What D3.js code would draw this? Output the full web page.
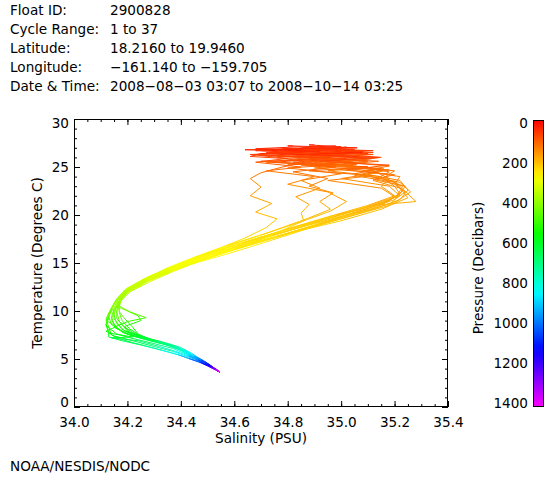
<!DOCTYPE html>
<html><head><meta charset="utf-8">
<script src="https://cdn.jsdelivr.net/npm/d3@7"></script>
<style>
html,body{margin:0;padding:0;background:#fff;}
svg{display:block;font-family:"DejaVu Sans",sans-serif;}
</style></head>
<body><svg id="chart" width="560" height="480"></svg>
<script>
// ---- header info ----
const headerLabels = ["Float ID:", "Cycle Range:", "Latitude:", "Longitude:", "Date & Time:"];
const headerValues = ["2900828", "1 to 37", "18.2160 to 19.9460", "\u2212161.140 to \u2212159.705", "2008\u221208\u221203 03:07 to 2008\u221210\u221214 03:25"];

// ---- axes ----
const salinityDomain = [34.0, 35.4];
const temperatureDomain = [0, 30];
const pressureDomain = [0, 1400];
const salinityTicks = [34.0, 34.2, 34.4, 34.6, 34.8, 35.0, 35.2, 35.4];
const temperatureTicks = [0, 5, 10, 15, 20, 25, 30];
const pressureTicks = [0, 200, 400, 600, 800, 1000, 1200, 1400];

// ---- profiles: [pressure (dbar), salinity (PSU), temperature (C)] ----
const c01 = [[10,34.92,26.9],[30,34.90,26.9],[46,34.75,26.8],[58,35.00,26.6],[76,34.70,26.2],[90,35.05,25.8],[104,34.80,25.3],[118,35.10,25.0],[131,34.95,24.6],[144,35.15,24.0],[160,35.20,23.0],[175,35.22,22.2],[195,35.18,21.0],[212,35.05,20.0],[228,34.90,18.8],[252,34.72,17.2],[268,34.58,16.0],[290,34.43,14.8],[315,34.32,13.7],[340,34.24,12.7],[370,34.19,11.8],[400,34.17,10.9],[440,34.16,9.9],[490,34.17,8.9],[550,34.20,7.9],[600,34.25,7.3],[660,34.32,6.8],[740,34.39,6.2],[830,34.43,5.6],[930,34.46,5.1],[1030,34.485,4.75],[1120,34.505,4.45],[1210,34.52,4.15],[1300,34.53,3.9],[1380,34.54,3.7]];
const c02 = [[10,35.02,27.1],[30,35.00,27.0],[46,34.80,26.9],[58,34.68,26.7],[70,34.95,26.5],[80,35.12,26.3],[95,34.85,25.9],[109,34.72,25.5],[122,35.05,25.1],[133,35.18,24.5],[149,35.12,23.6],[162,35.22,22.8],[180,35.25,21.8],[199,35.15,20.6],[219,35.00,19.4],[239,34.82,18.2],[262,34.65,16.8],[280,34.50,15.5],[305,34.38,14.3],[332,34.28,13.2],[360,34.21,12.2],[395,34.17,11.1],[435,34.15,10.1],[480,34.15,9.2],[540,34.18,8.1],[590,34.22,7.5],[640,34.28,7.0],[720,34.36,6.4],[810,34.42,5.8],[910,34.455,5.2],[1010,34.48,4.8],[1100,34.50,4.5],[1190,34.515,4.2],[1280,34.53,3.95],[1370,34.54,3.74],[1400,34.545,3.65]];
const c03 = [[10,34.88,26.6],[30,34.86,26.6],[46,34.70,26.4],[64,34.66,26.1],[85,34.90,25.7],[109,34.78,25.0],[127,34.70,24.4],[144,34.66,23.8],[158,34.70,22.9],[171,34.66,22.0],[185,34.74,21.2],[199,34.68,20.3],[212,34.76,19.6],[225,34.72,18.7],[244,34.64,17.6],[262,34.55,16.6],[278,34.44,15.4],[300,34.34,14.3],[325,34.26,13.3],[355,34.20,12.3],[390,34.16,11.2],[430,34.14,10.2],[475,34.13,9.3],[520,34.12,8.5],[560,34.16,7.6],[610,34.21,7.2],[670,34.30,6.6],[750,34.37,6.1],[840,34.42,5.5],[930,34.455,5.0],[1040,34.485,4.65],[1140,34.505,4.35],[1230,34.52,4.08],[1320,34.535,3.85],[1400,34.545,3.65]];
const c04 = [[10,34.95,26.8],[30,34.94,26.8],[46,35.08,26.6],[64,34.82,26.3],[80,35.10,25.9],[100,34.90,25.5],[118,35.15,24.8],[133,35.05,24.3],[147,35.20,23.5],[185,35.28,21.4],[199,35.12,21.0],[212,35.02,20.2],[225,34.88,19.0],[244,34.74,17.8],[264,34.60,16.5],[282,34.47,15.3],[305,34.36,14.2],[330,34.27,13.1],[358,34.20,12.1],[395,34.16,11.0],[440,34.17,9.9],[480,34.19,9.2],[530,34.22,8.3],[580,34.24,7.6],[630,34.29,7.0],[700,34.35,6.5],[780,34.40,6.0],[870,34.44,5.4],[960,34.47,5.0],[1060,34.49,4.65],[1150,34.51,4.35],[1240,34.525,4.05],[1330,34.535,3.82],[1400,34.545,3.64]];
const c05 = [[10,34.98,27.2],[30,34.97,27.2],[46,34.85,27.0],[58,35.05,26.8],[70,34.75,26.5],[85,34.92,26.0],[104,35.10,25.6],[118,34.85,25.2],[129,35.12,24.6],[144,35.18,23.8],[158,35.15,23.0],[175,35.20,22.0],[195,35.10,21.0],[216,34.95,19.8],[237,34.78,18.4],[259,34.62,17.0],[275,34.49,15.8],[298,34.38,14.6],[322,34.29,13.5],[350,34.22,12.5],[385,34.18,11.4],[420,34.17,10.5],[450,34.21,9.9],[480,34.27,9.3],[505,34.20,8.9],[540,34.15,8.3],[575,34.20,7.6],[620,34.26,7.1],[690,34.33,6.6],[770,34.39,6.1],[860,34.43,5.5],[950,34.46,5.05],[1050,34.485,4.7],[1140,34.505,4.4],[1230,34.52,4.1],[1320,34.535,3.86],[1400,34.545,3.66]];
const c06 = [[10,34.80,26.9],[30,34.79,26.9],[46,34.95,26.7],[58,34.72,26.5],[76,35.00,26.2],[90,34.88,25.8],[104,35.08,25.4],[118,34.80,24.9],[131,35.00,24.3],[144,34.85,23.6],[158,34.92,22.8],[171,34.83,21.9],[185,34.88,21.1],[202,34.85,20.2],[216,34.86,19.4],[231,34.78,18.4],[252,34.68,17.3],[265,34.56,16.3],[288,34.44,15.1],[310,34.34,14.0],[335,34.25,12.9],[365,34.19,11.9],[400,34.15,10.8],[440,34.13,9.8],[480,34.12,9.0],[515,34.16,8.4],[545,34.12,7.9],[580,34.15,7.4],[625,34.22,6.9],[690,34.30,6.3],[770,34.37,5.8],[860,34.42,5.3],[950,34.455,4.95],[1050,34.48,4.62],[1150,34.50,4.32],[1240,34.52,4.05],[1320,34.535,3.85],[1400,34.545,3.66]];
const c07 = [[10,35.05,27.0],[30,35.04,27.0],[46,34.90,26.9],[58,35.12,26.7],[76,34.95,26.4],[90,35.15,26.0],[106,35.00,25.5],[120,35.18,25.1],[133,35.08,24.6],[144,35.22,24.0],[158,35.20,23.2],[171,35.24,22.4],[187,35.20,21.6],[206,35.08,20.5],[222,34.95,19.4],[241,34.80,18.1],[264,34.63,16.7],[282,34.49,15.4],[305,34.37,14.2],[330,34.27,13.1],[360,34.20,12.0],[395,34.17,11.0],[435,34.16,10.1],[480,34.16,9.2],[530,34.19,8.3],[585,34.23,7.6],[640,34.29,7.0],[715,34.36,6.5],[800,34.41,5.9],[890,34.445,5.35],[990,34.47,4.95],[1090,34.495,4.55],[1180,34.51,4.25],[1270,34.525,3.98],[1360,34.54,3.75],[1400,34.545,3.66]];
const c08 = [[10,34.70,26.7],[30,34.70,26.7],[46,34.85,26.5],[64,34.66,26.3],[80,34.80,25.9],[95,34.68,25.5],[113,34.85,25.0],[127,34.72,24.6],[140,34.90,24.0],[153,34.80,23.2],[167,34.95,22.4],[183,35.02,21.4],[199,34.96,20.4],[216,34.85,19.3],[234,34.72,18.1],[257,34.57,16.8],[275,34.45,15.6],[298,34.35,14.5],[322,34.27,13.4],[350,34.20,12.4],[385,34.16,11.3],[425,34.14,10.3],[470,34.13,9.4],[520,34.14,8.6],[565,34.19,7.7],[615,34.25,7.2],[680,34.32,6.7],[760,34.38,6.2],[850,34.42,5.6],[940,34.455,5.1],[1040,34.48,4.75],[1130,34.50,4.45],[1220,34.515,4.15],[1310,34.53,3.9],[1390,34.54,3.68]];
const c09 = [[10,34.90,27.3],[30,34.88,27.3],[46,35.00,27.1],[58,34.78,26.9],[70,35.08,26.7],[84,34.92,26.3],[97,35.12,25.9],[111,34.95,25.3],[124,35.16,24.8],[136,35.10,24.2],[149,35.22,23.6],[167,35.25,22.6],[185,35.22,21.6],[204,35.12,20.6],[219,35.00,19.6],[235,34.84,18.4],[257,34.66,17.0],[272,34.52,15.9],[295,34.40,14.8],[318,34.31,13.7],[345,34.23,12.7],[378,34.18,11.6],[415,34.16,10.6],[460,34.15,9.6],[510,34.16,8.7],[560,34.19,7.9],[610,34.25,7.3],[670,34.33,6.8],[750,34.40,6.2],[840,34.44,5.6],[930,34.465,5.15],[1030,34.49,4.75],[1120,34.505,4.45],[1210,34.52,4.15],[1300,34.535,3.9],[1390,34.545,3.68]];
const c10 = [[10,34.95,26.4],[30,34.94,26.4],[52,34.74,26.2],[70,35.02,25.9],[87,34.82,25.5],[104,35.10,25.0],[118,34.88,24.6],[131,35.12,24.1],[142,34.95,23.6],[156,35.15,22.8],[171,35.20,21.9],[190,35.14,20.9],[208,35.02,19.9],[222,34.90,18.9],[241,34.76,17.7],[263,34.60,16.4],[280,34.47,15.2],[303,34.37,14.1],[328,34.28,13.0],[357,34.21,12.0],[392,34.17,10.9],[432,34.15,10.0],[478,34.14,9.1],[530,34.16,8.2],[580,34.21,7.5],[630,34.27,7.0],[700,34.34,6.5],[785,34.40,5.9],[875,34.44,5.35],[970,34.47,4.95],[1070,34.49,4.6],[1160,34.51,4.3],[1250,34.525,4.0],[1340,34.54,3.78],[1400,34.545,3.65]];
const c11 = [[10,35.00,26.6],[30,34.98,26.6],[46,35.10,26.4],[64,34.88,26.2],[80,35.12,25.9],[93,34.70,25.6],[109,34.95,25.2],[122,35.15,24.7],[136,35.05,24.1],[149,35.20,23.4],[165,35.23,22.5],[183,35.18,21.5],[202,35.06,20.5],[219,34.93,19.5],[237,34.78,18.2],[259,34.61,16.9],[276,34.47,15.6],[300,34.36,14.4],[325,34.27,13.3],[352,34.20,12.3],[388,34.16,11.2],[428,34.14,10.2],[475,34.12,9.2],[520,34.13,8.3],[565,34.14,7.5],[600,34.17,7.1],[650,34.22,6.7],[720,34.29,6.2],[800,34.35,5.75],[880,34.40,5.35],[970,34.44,4.95],[1070,34.475,4.6],[1170,34.50,4.28],[1260,34.52,4.0],[1340,34.535,3.8],[1400,34.545,3.66]];
const c12 = [[10,34.85,27.1],[30,34.84,27.1],[46,34.68,26.9],[58,34.92,26.8],[70,34.76,26.6],[85,35.02,26.2],[100,34.82,25.7],[115,35.06,25.3],[127,34.90,24.9],[138,35.14,24.4],[149,35.00,23.8],[162,35.18,23.0],[177,35.22,22.0],[197,35.12,21.0],[212,34.98,20.0],[231,34.82,18.7],[255,34.64,17.2],[272,34.50,16.0],[295,34.39,14.8],[318,34.30,13.7],[345,34.22,12.7],[378,34.18,11.5],[418,34.16,10.5],[450,34.20,10.0],[480,34.24,9.5],[510,34.25,9.0],[540,34.19,8.4],[575,34.21,7.7],[620,34.26,7.2],[685,34.33,6.7],[765,34.39,6.1],[855,34.43,5.5],[945,34.46,5.05],[1045,34.485,4.7],[1140,34.505,4.4],[1230,34.52,4.1],[1320,34.535,3.86],[1400,34.545,3.66]];
const c13 = [[10,34.96,26.9],[30,34.95,26.9],[46,34.64,26.8],[62,34.90,26.6],[78,35.10,26.3],[93,34.86,26.0],[108,35.14,25.6],[120,34.98,25.2],[133,35.20,24.6],[147,35.16,23.9],[162,35.23,23.0],[180,35.21,22.0],[199,35.10,20.9],[216,34.97,19.8],[234,34.80,18.5],[257,34.63,17.1],[274,34.49,15.9],[298,34.38,14.7],[322,34.28,13.6],[350,34.21,12.5],[385,34.17,11.4],[425,34.15,10.4],[470,34.13,9.5],[515,34.12,8.6],[555,34.13,7.8],[590,34.13,7.3],[630,34.18,6.9],[700,34.26,6.4],[780,34.33,5.9],[865,34.39,5.45],[955,34.43,5.05],[1050,34.47,4.7],[1145,34.495,4.38],[1235,34.515,4.08],[1320,34.53,3.85],[1400,34.545,3.65]];
const c14 = [[10,34.82,27.2],[30,34.80,27.2],[46,35.06,27.0],[58,34.86,26.8],[73,35.12,26.5],[87,34.76,26.1],[102,35.04,25.7],[117,34.88,25.2],[129,35.18,24.7],[142,35.08,24.2],[154,35.22,23.4],[171,35.26,22.4],[190,35.20,21.3],[208,35.06,20.2],[224,34.92,19.1],[244,34.76,17.8],[264,34.61,16.6],[282,34.47,15.3],[306,34.36,14.1],[332,34.27,13.0],[362,34.20,11.9],[398,34.17,10.9],[440,34.17,9.8],[485,34.18,9.0],[535,34.21,8.1],[585,34.25,7.4],[640,34.31,6.9],[715,34.38,6.3],[800,34.42,5.8],[890,34.45,5.3],[985,34.475,4.9],[1085,34.495,4.55],[1175,34.51,4.25],[1265,34.525,3.98],[1355,34.54,3.76],[1400,34.545,3.66]];
const c15 = [[10,34.75,26.8],[30,34.74,26.8],[46,34.92,26.6],[62,34.68,26.3],[78,34.95,25.9],[93,34.75,25.5],[109,34.98,25.0],[122,34.82,24.5],[136,34.95,23.8],[149,34.88,23.0],[162,34.97,22.3],[175,34.92,21.4],[193,34.96,20.6],[209,34.88,19.7],[224,34.80,18.9],[241,34.70,17.9],[262,34.57,16.7],[278,34.45,15.5],[300,34.35,14.4],[325,34.26,13.3],[355,34.19,12.2],[390,34.16,11.2],[430,34.14,10.2],[470,34.13,9.4],[510,34.12,8.6],[550,34.13,7.7],[585,34.22,7.3],[620,34.14,7.2],[660,34.24,6.9],[730,34.32,6.3],[810,34.38,5.8],[900,34.43,5.3],[995,34.465,4.9],[1090,34.49,4.55],[1180,34.51,4.25],[1270,34.525,3.98],[1360,34.54,3.75],[1400,34.545,3.66]];
const c16 = [[10,35.08,26.5],[30,35.07,26.5],[46,34.86,26.3],[64,35.14,26.0],[80,34.92,25.6],[95,35.18,25.2],[111,35.02,24.7],[126,35.20,24.2],[138,35.12,23.7],[150,35.24,23.0],[167,35.22,22.2],[183,35.16,21.2],[202,35.04,20.2],[219,34.90,19.1],[237,34.74,17.9],[259,34.59,16.6],[276,34.46,15.4],[300,34.36,14.3],[325,34.27,13.2],[355,34.20,12.2],[390,34.17,11.1],[430,34.15,10.2],[470,34.14,9.4],[515,34.15,8.6],[560,34.18,7.8],[605,34.23,7.3],[660,34.30,6.9],[735,34.37,6.4],[820,34.42,5.8],[910,34.45,5.3],[1005,34.475,4.9],[1100,34.50,4.5],[1190,34.515,4.2],[1280,34.53,3.95],[1370,34.54,3.72],[1400,34.545,3.65]];
const profiles = [c01, c02, c03, c04, c05, c06, c07, c08, c09, c10, c11, c12, c13, c14, c15, c16];

// ---- drawing ----
const FS = 13.6;
const svg = d3.select("#chart");
const x = d3.scaleLinear().domain(salinityDomain).range([74, 448]);
const y = d3.scaleLinear().domain(temperatureDomain).range([407, 119]);
const hue = d3.scaleLinear().domain(pressureDomain).range([0, 300]).clamp(true);
const color = p => d3.hsl(hue(p), 1, 0.5).toString();

// header
const hdr = svg.append("g").attr("font-size", FS).attr("fill", "#000");
headerLabels.forEach((t, i) => {
  hdr.append("text").attr("x", 10).attr("y", 15 + i * 19).text(t);
  hdr.append("text").attr("x", 110).attr("y", 15 + i * 19).text(headerValues[i]);
});

// profiles as coloured segments
const gLines = svg.append("g").attr("fill", "none").attr("stroke-width", 1);
profiles.forEach(prof => {
  const segs = d3.pairs(prof);
  gLines.selectAll(null).data(segs).join("line")
    .attr("x1", d => x(d[0][1])).attr("y1", d => y(d[0][2]))
    .attr("x2", d => x(d[1][1])).attr("y2", d => y(d[1][2]))
    .attr("stroke", d => color((d[0][0] + d[1][0]) / 2));
});

// axes
function styleAxis(g) {
  g.select(".domain").remove();
  g.selectAll("line").attr("stroke", "#000");
  g.selectAll("text").attr("fill", "#000").attr("font-size", FS).attr("font-family", "DejaVu Sans, sans-serif");
}
const minorX = d3.range(34.0, 35.4001, 0.05);
const minorY = d3.range(0, 30.001, 1);
svg.append("g").attr("transform", "translate(0,407)")
  .call(d3.axisBottom(x).tickValues(minorX).tickFormat("").tickSizeInner(-3).tickSizeOuter(0)).call(styleAxis);
svg.append("g").attr("transform", "translate(0,407)")
  .call(d3.axisBottom(x).tickValues(salinityTicks).tickFormat(d3.format(".1f")).tickSizeInner(-6).tickSizeOuter(0).tickPadding(10)).call(styleAxis);
svg.append("g").attr("transform", "translate(0,119)")
  .call(d3.axisTop(x).tickValues(minorX).tickFormat("").tickSizeInner(-3).tickSizeOuter(0)).call(styleAxis);
svg.append("g").attr("transform", "translate(0,119)")
  .call(d3.axisTop(x).tickValues(salinityTicks).tickFormat("").tickSizeInner(-6).tickSizeOuter(0)).call(styleAxis);
svg.append("g").attr("transform", "translate(74,0)")
  .call(d3.axisLeft(y).tickValues(minorY).tickFormat("").tickSizeInner(-3).tickSizeOuter(0)).call(styleAxis);
const yAx = svg.append("g").attr("transform", "translate(74,0)")
  .call(d3.axisLeft(y).tickValues(temperatureTicks).tickFormat(d3.format("d")).tickSizeInner(-6).tickSizeOuter(0).tickPadding(5)).call(styleAxis);
yAx.selectAll(".tick text").filter(d => d === 0).attr("dy", "-0.05em");
yAx.selectAll(".tick text").filter(d => d === 30).attr("dy", "0.6em");
svg.append("g").attr("transform", "translate(448,0)")
  .call(d3.axisRight(y).tickValues(minorY).tickFormat("").tickSizeInner(-3).tickSizeOuter(0)).call(styleAxis);
svg.append("g").attr("transform", "translate(448,0)")
  .call(d3.axisRight(y).tickValues(temperatureTicks).tickFormat("").tickSizeInner(-6).tickSizeOuter(0)).call(styleAxis);
svg.append("rect").attr("x", 74.5).attr("y", 119.5).attr("width", 373).attr("height", 287)
  .attr("fill", "none").attr("stroke", "#000");

// axis titles
svg.append("text").attr("x", 261).attr("y", 443).attr("text-anchor", "middle").attr("font-size", FS).text("Salinity (PSU)");
svg.append("text").attr("transform", "translate(42,263) rotate(-90)").attr("text-anchor", "middle").attr("font-size", FS).text("Temperature (Degrees C)");

// colour bar
const pBar = d3.scaleLinear().domain(pressureDomain).range([120, 407]);
const pLab = d3.scaleLinear().domain(pressureDomain).range([123, 403]);
const defs = svg.append("defs");
const grad = defs.append("linearGradient").attr("id", "pgrad").attr("x1", 0).attr("y1", 0).attr("x2", 0).attr("y2", 1);
d3.range(0, 1401, 50).forEach(p => grad.append("stop").attr("offset", p / 1400).attr("stop-color", color(p)));
svg.append("rect").attr("x", 533).attr("y", pBar(0)).attr("width", 10).attr("height", pBar(1400) - pBar(0)).attr("fill", "url(#pgrad)");
svg.append("rect").attr("x", 533.5).attr("y", pBar(0) + 0.5).attr("width", 10).attr("height", pBar(1400) - pBar(0) - 1)
  .attr("fill", "none").attr("stroke", "#000");
svg.append("g").attr("transform", "translate(533,0)")
  .call(d3.axisLeft(pLab).tickValues(pressureTicks).tickFormat(d3.format("d")).tickSize(0).tickPadding(5)).call(styleAxis);
svg.append("text").attr("transform", "translate(483,268) rotate(-90)").attr("text-anchor", "middle").attr("font-size", FS).text("Pressure (Decibars)");

// footer
svg.append("text").attr("x", 10).attr("y", 471).attr("font-size", FS).text("NOAA/NESDIS/NODC");
</script></body></html>
